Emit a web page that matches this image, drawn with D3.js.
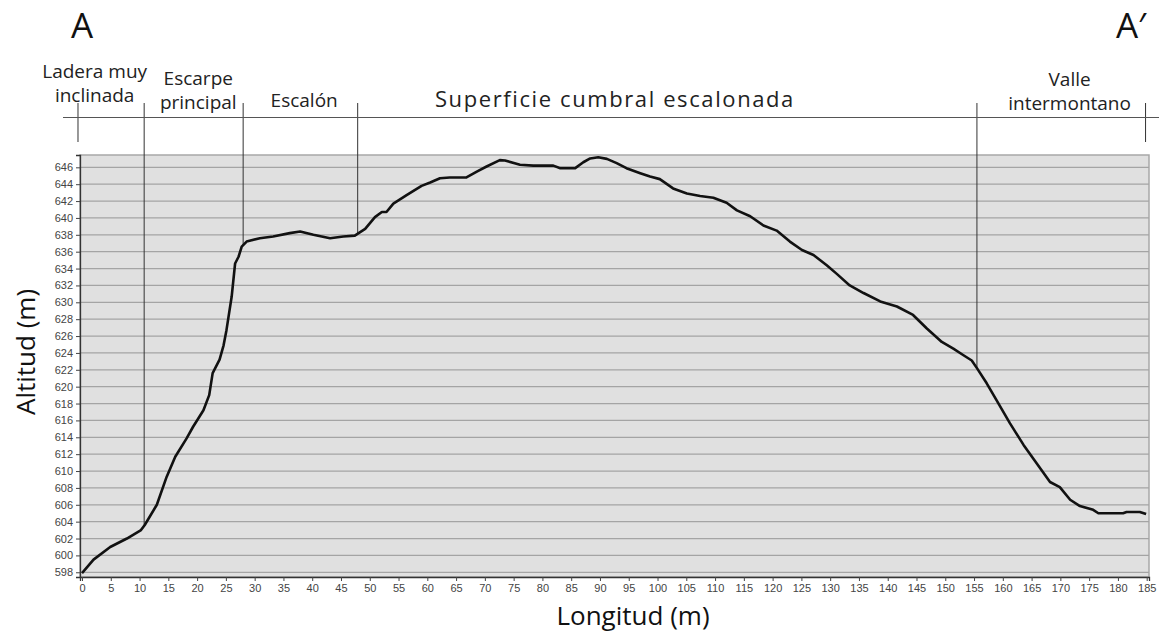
<!DOCTYPE html>
<html>
<head>
<meta charset="utf-8">
<script src="https://cdn.jsdelivr.net/npm/d3@7"></script>
<style>
  body { margin: 0; background: #fff; }
  svg { display: block; }
</style>
</head>
<body>
<div id="chart"></div>
<script>
// profile (distance in m, altitude in m)
let distance = [0, 2, 4.9, 7.8, 10.25, 10.9, 13, 14.7, 16.2, 18.2, 19.3, 21.1, 22.1, 22.7, 23.9, 24.6,
  25.1, 26, 26.6, 27.2, 27.75, 28.6, 30.9, 33.2, 36.1, 37.9, 40.2, 43.1, 45.4, 47.4, 49.2, 50.9, 52.1, 52.9,
  54.1, 56.4, 59, 60.5, 62.2, 63.9, 66.8, 68.6, 70.3, 72.6, 73.5, 76.1, 78.4, 81.9, 83.1, 85.7, 87.1, 88.3,
  89.7, 91.2, 92.9, 94.6, 97, 98.7, 100.4, 102.7, 105.1, 107.4, 109.7, 112, 113.8, 116.1, 118.4, 120.7,
  123, 125.1, 127.1, 129.4, 131.1, 133.4, 135.8, 138.7, 141.6, 144.4, 146.8, 149.4, 151.4, 153.1, 154.6,
  155.5, 157.2, 158.9, 161.25, 163.6, 165.9, 168.2, 169.9, 171.7, 173.4, 175.7, 176.6, 180.9, 181.5,
  183.8, 184.9];
let altitude = [597.9, 599.5, 601.0, 602.0, 603.0, 603.6, 606.0, 609.3, 611.7, 613.9, 615.25, 617.2,
  619.0, 621.6, 623.2, 624.9, 626.7, 630.65, 634.6, 635.4, 636.6, 637.2, 637.6, 637.8, 638.2, 638.4,
  638.0, 637.6, 637.8, 637.9, 638.7, 640.1, 640.7, 640.7, 641.7, 642.7, 643.8, 644.2, 644.7, 644.8,
  644.8, 645.5, 646.1, 646.85, 646.8, 646.3, 646.2, 646.2, 645.9, 645.9, 646.6, 647.05, 647.2, 647.0,
  646.5, 645.9, 645.3, 644.9, 644.6, 643.5, 642.9, 642.6, 642.4, 641.8, 640.9, 640.2, 639.1, 638.5,
  637.2, 636.2, 635.6, 634.4, 633.4, 632.0, 631.1, 630.1, 629.5, 628.5, 626.9, 625.3, 624.5, 623.75,
  623.1, 622.2, 620.4, 618.4, 615.65, 613.1, 610.9, 608.7, 608.1, 606.6, 605.85, 605.4, 605.0, 605.0,
  605.15, 605.15, 604.9];

let xTicks = d3.range(0, 186, 5);
let yTicks = d3.range(598, 647, 2);

// section limits along the profile, and their names (with where each name sits)
let sectionBreaks = [-0.7, 10.8, 28.0, 47.9, 155.5, 184.8];
let sectionNames = [
  ["Ladera muy", "inclinada"],
  ["Escarpe", "principal"],
  ["Escalón"],
  ["Superficie cumbral escalonada"],
  ["Valle", "intermontano"]
];
let sectionLabelAt = [2.2, 20.2, 38.6, 92.6, 171.6];

let width = 1159, height = 640;
let plotLeft = 80, plotRight = 1149, plotTop = 155, plotBottom = 577;

let svg = d3.select("#chart").append("svg")
  .attr("width", width)
  .attr("height", height);

let x = d3.scaleLinear().domain([-0.35, 185.4]).range([plotLeft, plotRight]);
let y = d3.scaleLinear().domain([597.44, 647.46]).range([plotBottom, plotTop]);

// plot background
svg.append("rect")
  .attr("x", plotLeft).attr("y", plotTop)
  .attr("width", plotRight - plotLeft).attr("height", plotBottom - plotTop)
  .attr("fill", "#e0e0e0")
  .attr("stroke", "#a8a8a8")
  .attr("stroke-width", 1.5);

// horizontal grid
svg.append("g").selectAll("line")
  .data(yTicks)
  .enter()
  .append("line")
  .attr("x1", plotLeft).attr("x2", plotRight)
  .attr("y1", d => y(d)).attr("y2", d => y(d))
  .attr("stroke", "#a4a4a4")
  .attr("stroke-width", 1.3);

// axes
let yAxis = svg.append("g")
  .attr("transform", "translate(" + plotLeft + ",0)")
  .call(d3.axisLeft(y).tickValues(yTicks).tickSize(4).tickPadding(3));
let xAxis = svg.append("g")
  .attr("transform", "translate(0," + plotBottom + ")")
  .call(d3.axisBottom(x).tickValues(xTicks).tickSize(4).tickPadding(3));

[xAxis, yAxis].forEach(a => {
  a.select(".domain").attr("stroke", "#333").attr("stroke-width", 1.3);
  a.selectAll(".tick line").attr("stroke", "#444");
  a.selectAll(".tick text")
    .attr("fill", "#444")
    .style("font-family", "'Liberation Sans', Arial, sans-serif")
    .style("font-size", "11px");
});

// section boundaries down to the profile
let bisect = d3.bisector(d => d).left;
function altAt(d) {
  let i = bisect(distance, d);
  if (i <= 0) return altitude[0];
  if (i >= distance.length) return altitude[altitude.length - 1];
  let t = (d - distance[i - 1]) / (distance[i] - distance[i - 1]);
  return altitude[i - 1] + t * (altitude[i] - altitude[i - 1]);
}

svg.append("g").selectAll("line")
  .data(sectionBreaks)
  .enter()
  .append("line")
  .attr("x1", d => x(d)).attr("x2", d => x(d))
  .attr("y1", 103)
  .attr("y2", (d, i) => (i == 0 || i == sectionBreaks.length - 1) ? 142 : y(altAt(d)))
  .attr("stroke", "#333")
  .attr("stroke-width", 1);

svg.append("line")
  .attr("x1", 63).attr("x2", width)
  .attr("y1", 117.5).attr("y2", 117.5)
  .attr("stroke", "#555")
  .attr("stroke-width", 1);

// profile line
let line = d3.line()
  .x((d, i) => x(distance[i]))
  .y(d => y(d));

svg.append("path")
  .datum(altitude)
  .attr("d", line)
  .attr("fill", "none")
  .attr("stroke", "#111")
  .attr("stroke-width", 2.6)
  .attr("stroke-linejoin", "round");

// section names, one text each (two-line names use tspans)
let labelFont = "'Open Sans', 'Noto Sans', sans-serif";
let firstBase = [78, 85, 106.5, 106.5, 86];
let labelSize = [19, 19, 19, 22, 19];
let tracking = [0, 0, 0, 1.6, 0]; // the long label is set wider in the original
sectionNames.forEach((lines, i) => {
  let cx = x(sectionLabelAt[i]);
  let txt = svg.append("text")
    .attr("y", firstBase[i])
    .attr("text-anchor", "middle")
    .style("font-family", labelFont)
    .style("font-size", labelSize[i] + "px")
    .style("letter-spacing", tracking[i] + "px")
    .attr("fill", "#222");
  lines.forEach((t, j) => {
    txt.append("tspan")
      .attr("x", cx)
      .attr("dy", j == 0 ? 0 : 24)
      .text(t);
  });
});

// A - A' ends
svg.append("text")
  .attr("x", 82).attr("y", 38)
  .attr("text-anchor", "middle")
  .style("font-family", labelFont)
  .style("font-size", "35px")
  .attr("fill", "#111")
  .text("A");
svg.append("text")
  .attr("x", 1131).attr("y", 38)
  .attr("text-anchor", "middle")
  .style("font-family", labelFont)
  .style("font-size", "35px")
  .attr("fill", "#111")
  .text("A′");

// axis titles
svg.append("text")
  .attr("x", 633).attr("y", 625)
  .attr("text-anchor", "middle")
  .style("font-family", labelFont)
  .style("font-size", "26px")
  .attr("fill", "#111")
  .text("Longitud (m)");
svg.append("text")
  .attr("transform", "translate(35,352) rotate(-90)")
  .attr("text-anchor", "middle")
  .style("font-family", labelFont)
  .style("font-size", "26px")
  .attr("fill", "#111")
  .text("Altitud (m)");
</script>
</body>
</html>
